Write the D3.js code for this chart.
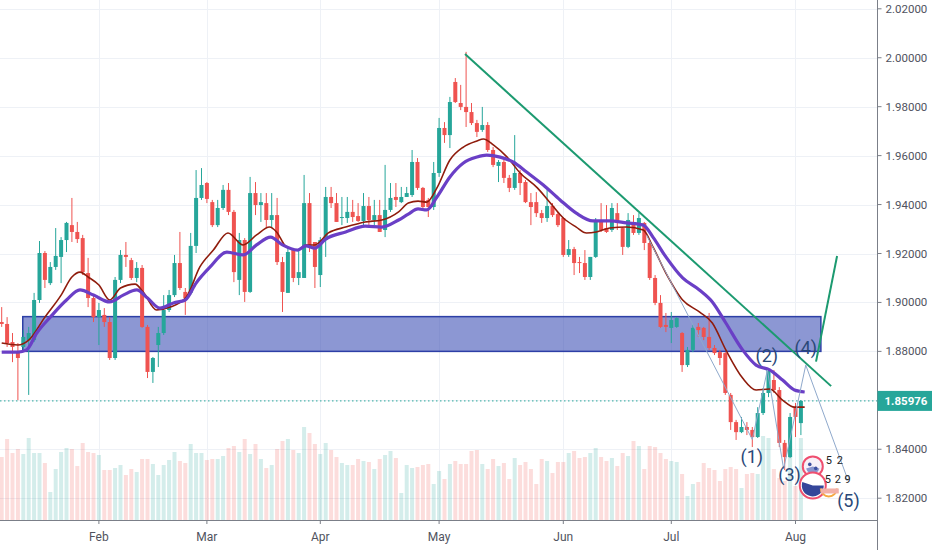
<!DOCTYPE html>
<html>
<head>
<meta charset="utf-8">
<script src="https://cdn.jsdelivr.net/npm/d3@7"></script>
<style>
  body { margin: 0; background: #fff; }
  svg { display: block; font-family: Roboto, "Liberation Sans", sans-serif; }
</style>
</head>
<body>
<svg id="chart" width="932" height="550"></svg>
<script>
// daily bars, index 0 = mid January
const candles = [ // [open, high, low, close]
  [1.8920,1.8981,1.8900,1.8912],[1.8912,1.8940,1.8818,1.8834],[1.8838,1.8875,1.8756,1.8818],[1.8797,1.8834,1.8601,1.8773],
  [1.8818,1.8887,1.8806,1.8859],[1.8846,1.8900,1.8622,1.8875],[1.8846,1.9039,1.8838,1.9010],[1.9010,1.9251,1.8998,1.9202],
  [1.9202,1.9210,1.9059,1.9092],[1.9079,1.9165,1.9071,1.9145],[1.9145,1.9304,1.9133,1.9190],[1.9186,1.9267,1.9079,1.9255],
  [1.9255,1.9329,1.9206,1.9325],[1.9316,1.9427,1.9247,1.9288],[1.9288,1.9329,1.9243,1.9259],[1.9263,1.9276,1.9112,1.9124],
  [1.9120,1.9182,1.8981,1.9018],[1.9018,1.9026,1.8920,1.8940],[1.8940,1.8998,1.8826,1.8969],[1.8949,1.8977,1.8900,1.8920],
  [1.8920,1.8940,1.8765,1.8773],[1.8773,1.9104,1.8765,1.9092],[1.9092,1.9214,1.9079,1.9194],[1.9194,1.9247,1.9145,1.9186],
  [1.9173,1.9182,1.9092,1.9100],[1.9100,1.9165,1.9083,1.9141],[1.9141,1.9153,1.8896,1.8900],[1.8900,1.8908,1.8691,1.8716],
  [1.8716,1.8777,1.8671,1.8773],[1.8826,1.8900,1.8736,1.8875],[1.8875,1.9030,1.8867,1.8969],[1.8969,1.9051,1.8961,1.9030],
  [1.9030,1.9194,1.9022,1.9161],[1.9161,1.9288,1.9051,1.9059],[1.9043,1.9059,1.8949,1.9018],[1.9039,1.9284,1.9030,1.9231],
  [1.9231,1.9541,1.9202,1.9427],[1.9427,1.9549,1.9419,1.9480],[1.9488,1.9492,1.9406,1.9423],[1.9410,1.9419,1.9308,1.9316],
  [1.9316,1.9419,1.9308,1.9386],[1.9386,1.9480,1.9378,1.9460],[1.9460,1.9488,1.9357,1.9370],[1.9370,1.9378,1.9083,1.9124],
  [1.9092,1.9284,1.9030,1.9255],[1.9255,1.9263,1.9002,1.9043],[1.9043,1.9513,1.9039,1.9447],[1.9447,1.9492,1.9357,1.9398],
  [1.9398,1.9447,1.9329,1.9410],[1.9406,1.9447,1.9304,1.9337],[1.9337,1.9447,1.9304,1.9357],[1.9357,1.9427,1.9153,1.9165],
  [1.9165,1.9186,1.8961,1.9043],[1.9039,1.9227,1.9039,1.9206],[1.9214,1.9222,1.9083,1.9100],[1.9100,1.9214,1.9071,1.9124],
  [1.9100,1.9521,1.9100,1.9406],[1.9406,1.9447,1.9206,1.9227],[1.9247,1.9247,1.9059,1.9145],[1.9112,1.9267,1.9063,1.9255],
  [1.9255,1.9472,1.9186,1.9431],[1.9431,1.9472,1.9386,1.9406],[1.9406,1.9447,1.9329,1.9329],[1.9345,1.9431,1.9316,1.9349],
  [1.9345,1.9431,1.9325,1.9370],[1.9370,1.9419,1.9329,1.9349],[1.9353,1.9406,1.9329,1.9333],[1.9333,1.9447,1.9316,1.9394],
  [1.9394,1.9431,1.9316,1.9337],[1.9337,1.9419,1.9316,1.9357],[1.9357,1.9419,1.9288,1.9288],[1.9296,1.9562,1.9267,1.9378],
  [1.9378,1.9488,1.9370,1.9427],[1.9431,1.9488,1.9390,1.9419],[1.9410,1.9472,1.9406,1.9431],[1.9431,1.9472,1.9431,1.9447],
  [1.9439,1.9623,1.9431,1.9574],[1.9574,1.9590,1.9460,1.9468],[1.9468,1.9472,1.9378,1.9390],[1.9419,1.9427,1.9349,1.9390],
  [1.9390,1.9574,1.9378,1.9529],[1.9529,1.9754,1.9513,1.9713],[1.9713,1.9737,1.9652,1.9684],[1.9684,1.9840,1.9631,1.9819],
  [1.9901,1.9917,1.9815,1.9819],[1.9815,1.9889,1.9786,1.9799],[1.9799,2.0024,1.9717,1.9778],[1.9778,1.9815,1.9725,1.9733],
  [1.9733,1.9746,1.9676,1.9697],[1.9705,1.9799,1.9697,1.9725],[1.9725,1.9737,1.9615,1.9623],[1.9623,1.9635,1.9553,1.9562],
  [1.9558,1.9582,1.9492,1.9574],[1.9574,1.9582,1.9488,1.9509],[1.9509,1.9521,1.9451,1.9468],[1.9468,1.9684,1.9460,1.9529],
  [1.9529,1.9541,1.9439,1.9488],[1.9492,1.9500,1.9406,1.9410],[1.9410,1.9447,1.9316,1.9390],[1.9410,1.9451,1.9349,1.9365],
  [1.9365,1.9378,1.9325,1.9345],[1.9345,1.9460,1.9329,1.9394],[1.9394,1.9406,1.9349,1.9357],[1.9361,1.9370,1.9308,1.9316],
  [1.9345,1.9349,1.9186,1.9194],[1.9194,1.9255,1.9186,1.9218],[1.9218,1.9227,1.9112,1.9161],[1.9165,1.9186,1.9120,1.9161],
  [1.9161,1.9214,1.9092,1.9104],[1.9104,1.9186,1.9092,1.9186],[1.9186,1.9345,1.9182,1.9329],[1.9329,1.9406,1.9288,1.9296],
  [1.9304,1.9398,1.9284,1.9288],[1.9296,1.9406,1.9288,1.9386],[1.9365,1.9406,1.9296,1.9325],[1.9304,1.9308,1.9194,1.9227],
  [1.9227,1.9365,1.9222,1.9337],[1.9325,1.9357,1.9276,1.9284],[1.9284,1.9365,1.9276,1.9345],[1.9325,1.9329,1.9214,1.9243],
  [1.9243,1.9255,1.9092,1.9100],[1.9100,1.9112,1.8989,1.8998],[1.8998,1.9030,1.8896,1.8900],[1.8908,1.8957,1.8879,1.8900],
  [1.8896,1.8961,1.8834,1.8928],[1.8900,1.8940,1.8896,1.8936],[1.8875,1.8879,1.8716,1.8744],[1.8744,1.8818,1.8736,1.8806],
  [1.8806,1.8908,1.8797,1.8896],[1.8900,1.8916,1.8859,1.8887],[1.8896,1.8900,1.8846,1.8859],[1.8859,1.8957,1.8806,1.8814],
  [1.8814,1.8826,1.8785,1.8793],[1.8797,1.8806,1.8744,1.8773],[1.8793,1.8797,1.8622,1.8630],[1.8622,1.8630,1.8479,1.8511],
  [1.8511,1.8520,1.8438,1.8470],[1.8470,1.8532,1.8466,1.8491],[1.8491,1.8511,1.8458,1.8479],[1.8479,1.8491,1.8409,1.8450],
  [1.8450,1.8572,1.8446,1.8548],[1.8548,1.8650,1.8540,1.8630],[1.8630,1.8732,1.8613,1.8724],[1.8683,1.8724,1.8630,1.8642],
  [1.8642,1.8654,1.8409,1.8426],[1.8426,1.8438,1.8315,1.8368],[1.8368,1.8548,1.8364,1.8532],[1.8572,1.8589,1.8450,1.8532],
  [1.8507,1.8601,1.8458,1.85976]
];

const volumes = [
  63,81,67,71,66,82,67,67,57,28,51,68,72,71,54,77,68,67,65,50,
  50,52,55,45,51,48,61,61,56,45,55,60,68,59,57,76,67,67,60,61,
  61,64,72,74,68,81,66,76,61,52,55,71,79,81,70,67,93,87,76,66,
  77,70,63,57,55,55,61,59,58,51,61,65,69,62,27,55,52,53,55,56,
  36,49,41,56,59,56,56,69,70,56,51,61,54,57,41,62,55,58,51,36,
  61,59,47,58,58,67,69,62,63,67,72,63,59,62,54,67,64,79,74,51,
  74,73,67,61,59,58,46,24,36,38,57,52,50,39,51,53,51,32,46,47,
  46,84,82,51,42,39,74,34,82
];

// moving averages: [bar, price]
const fastMa = [
  [0,1.8834],[3,1.8826],[5,1.8846],[8,1.8940],[11,1.9030],[13,1.9104],[14.5,1.9124],[16,1.9104],
  [18,1.9071],[20,1.9010],[22,1.9059],[24.7,1.9075],[26.2,1.9043],[28.7,1.8969],[31.2,1.8981],[34.2,1.9022],
  [36.7,1.9145],[39.2,1.9214],[41.9,1.9284],[44.7,1.9235],[47.2,1.9276],[49.6,1.9308],[50.9,1.9288],[52.7,1.9227],
  [54.8,1.9214],[56.3,1.9235],[58,1.9235],[60.5,1.9284],[63.7,1.9308],[67.3,1.9329],[70.4,1.9337],[73.5,1.9370],
  [75.3,1.9406],[77.1,1.9414],[78.7,1.9410],[80.6,1.9468],[83,1.9582],[85.5,1.9635],[88,1.9660],[89.2,1.9668],
  [91.1,1.9643],[93.6,1.9594],[96,1.9529],[99.2,1.9468],[101.6,1.9406],[104,1.9345],[106.4,1.9308],[108.3,1.9284],
  [110.1,1.9288],[112.6,1.9304],[115.7,1.9308],[118.8,1.9296],[120.6,1.9227],[123,1.9120],[126.1,1.9010],[129.2,1.8961],
  [131.6,1.8916],[134.1,1.8806],[137.2,1.8691],[139.7,1.8642],[142.2,1.8646],[144.6,1.8601],[146.8,1.8572],[148.7,1.8572]
];
const slowMa = [
  [0,1.8797],[3,1.8797],[4.6,1.8806],[6.5,1.8875],[9,1.8940],[12,1.9010],[14.5,1.9051],[17,1.9030],
  [20,1.9002],[22.5,1.9030],[25,1.9051],[27,1.9018],[29.3,1.8977],[31.8,1.8998],[34,1.9010],[36,1.9079],
  [38.6,1.9145],[41.7,1.9206],[44.7,1.9194],[47.2,1.9235],[49.8,1.9267],[52,1.9235],[54.8,1.9214],[56.3,1.9231],
  [58,1.9222],[60,1.9259],[63.7,1.9288],[67.3,1.9312],[70.4,1.9308],[73.5,1.9337],[75.3,1.9361],[77.1,1.9382],
  [78.7,1.9378],[80.6,1.9431],[83,1.9513],[85.5,1.9570],[88,1.9594],[89.8,1.9602],[92.3,1.9594],[94.7,1.9574],
  [97.2,1.9533],[100.3,1.9480],[103.4,1.9419],[106.4,1.9365],[109.5,1.9333],[112.6,1.9333],[115.7,1.9325],[118.8,1.9316],
  [120.6,1.9267],[123,1.9186],[126.1,1.9100],[129.2,1.9051],[131.6,1.9002],[134.1,1.8916],[137.2,1.8806],[139.7,1.8744],
  [142.2,1.8724],[144.6,1.8683],[146.8,1.8642],[148.7,1.8634]
];

const priceTicks = [1.82, 1.84, 1.86, 1.88, 1.90, 1.92, 1.94, 1.96, 1.98, 2.00, 2.02];
const monthLabels = ["Feb", "Mar", "Apr", "May", "Jun", "Jul", "Aug"];
const monthBars = [18, 38, 59, 81, 104, 124, 147];
const lastPrice = 1.85976;

// drawings
const zoneBars = [3.9, 151.7];
const zonePrices = [1.8800, 1.8942];
const trendLine = [[85.8, 2.0015], [153.6, 1.8658]];
const breakoutLine = [[150.8, 1.8758], [154.7, 1.9190]];
const wavePoints = [[119.4, 1.9276], [139, 1.8440], [141.8, 1.8724], [144.8, 1.8320], [148.9, 1.8744], [156.6, 1.8281]];
const waveLabels = ["(1)", "(2)", "(3)", "(4)", "(5)"];
const waveLabelAt = [[138.9, 1.8372], [141.7, 1.8783], [145.9, 1.8295], [148.9, 1.8815], [156.8, 1.8192]];
const iconAt = [[150.2, 1.8330], [150.2, 1.8252]];

const plotRight = 877.5, baseY = 520;
const x = d3.scaleLinear([0, 148], [1.7, 800.9]);
const y = d3.scaleLinear([1.82, 2.02], [498.2, 8.8]);
const yVol = d3.scaleLinear([0, 100], [baseY, baseY - 100]);

const up = "#26a69a", down = "#ef5350";
const svg = d3.select("#chart");

// grid
svg.append("g").selectAll("line").data(priceTicks).join("line")
  .attr("x1", 0).attr("x2", plotRight)
  .attr("y1", d => Math.round(y(d)) + 0.5).attr("y2", d => Math.round(y(d)) + 0.5)
  .attr("stroke", "#eef1f6");
svg.append("g").selectAll("line").data(monthBars).join("line")
  .attr("x1", d => Math.round(x(d)) + 0.5).attr("x2", d => Math.round(x(d)) + 0.5)
  .attr("y1", 0).attr("y2", baseY)
  .attr("stroke", "#eef1f6");

// volume
svg.append("g").selectAll("rect").data(volumes).join("rect")
  .attr("x", (d, i) => x(i) - 2).attr("width", 4)
  .attr("y", d => yVol(d)).attr("height", d => baseY - yVol(d))
  .attr("fill", (d, i) => candles[i][3] >= candles[i][0] ? "rgba(38,166,154,0.2)" : "rgba(239,83,80,0.2)");

// support zone
svg.append("rect")
  .attr("x", x(zoneBars[0])).attr("width", x(zoneBars[1]) - x(zoneBars[0]))
  .attr("y", y(zonePrices[1])).attr("height", y(zonePrices[0]) - y(zonePrices[1]))
  .attr("fill", "rgba(63,81,181,0.6)")
  .attr("stroke", "#2d3fa6").attr("stroke-width", 1.5);

// last price line
svg.append("line")
  .attr("x1", 0).attr("x2", plotRight)
  .attr("y1", y(lastPrice)).attr("y2", y(lastPrice))
  .attr("stroke", up).attr("stroke-dasharray", "1.5,2.5");

// candles
const bars = svg.append("g").selectAll("g").data(candles).join("g")
  .attr("fill", d => d[3] >= d[0] ? up : down)
  .attr("stroke", d => d[3] >= d[0] ? up : down);
bars.append("line")
  .attr("x1", (d, i) => x(i)).attr("x2", (d, i) => x(i))
  .attr("y1", d => y(d[1])).attr("y2", d => y(d[2]))
  .attr("stroke-width", 1);
bars.append("rect")
  .attr("x", (d, i) => x(i) - 2).attr("width", 4)
  .attr("y", d => y(Math.max(d[0], d[3])))
  .attr("height", d => Math.max(1, Math.abs(y(d[0]) - y(d[3]))))
  .attr("stroke", "none");

// moving averages
const maLine = d3.line().x(d => x(d[0])).y(d => y(d[1])).curve(d3.curveMonotoneX);
svg.append("path").datum(fastMa).attr("d", maLine)
  .attr("fill", "none").attr("stroke", "#8f1c0c").attr("stroke-width", 1.6);
svg.append("path").datum(slowMa).attr("d", maLine)
  .attr("fill", "none").attr("stroke", "#6a3fc6").attr("stroke-width", 3.2);

// drawings
const seg = d3.line().x(d => x(d[0])).y(d => y(d[1]));
svg.append("path").datum(wavePoints).attr("d", seg)
  .attr("fill", "none").attr("stroke", "#8fa9cc").attr("stroke-width", 1);
svg.append("circle").datum(wavePoints[wavePoints.length - 1])
  .attr("cx", d => x(d[0])).attr("cy", d => y(d[1])).attr("r", 2)
  .attr("fill", "#fff").attr("stroke", "#8fa9cc");
svg.append("path").datum(trendLine).attr("d", seg)
  .attr("fill", "none").attr("stroke", "#1c9a70").attr("stroke-width", 2);
svg.append("path").datum(breakoutLine).attr("d", seg)
  .attr("fill", "none").attr("stroke", "#1c9a70").attr("stroke-width", 2);

svg.append("g").selectAll("text").data(waveLabels).join("text")
  .attr("x", (d, i) => x(waveLabelAt[i][0])).attr("y", (d, i) => y(waveLabelAt[i][1]))
  .attr("text-anchor", "middle").attr("dominant-baseline", "central")
  .attr("font-size", 18).attr("fill", "#2a4878")
  .text(d => d);

// small event icons near the last bars
const ic = svg.append("g");
const c0 = [x(iconAt[0][0]), y(iconAt[0][1])], c1 = [x(iconAt[1][0]), y(iconAt[1][1])];
ic.append("circle").attr("cx", c0[0]).attr("cy", c0[1]).attr("r", 10)
  .attr("fill", "#f7f0f8").attr("stroke", "#ef4f6f").attr("stroke-width", 2);
ic.append("path").attr("transform", `translate(${c0[0]},${c0[1]})`)
  .attr("d", d3.arc()({ innerRadius: 0, outerRadius: 7, startAngle: Math.PI * 0.6, endAngle: Math.PI * 1.4 }))
  .attr("fill", "#8a96cf");
ic.append("circle").attr("cx", c0[0] - 3).attr("cy", c0[1] - 2).attr("r", 1.8).attr("fill", "#3d4f9f");
ic.append("circle").attr("cx", c0[0] + 3).attr("cy", c0[1] + 2).attr("r", 1.8).attr("fill", "#3d4f9f");
ic.append("text").attr("x", c0[0] + 13).attr("y", c0[1] - 2)
  .attr("font-size", 11).attr("fill", "#222").attr("letter-spacing", 1).text("5 2");
ic.append("circle").attr("cx", c1[0]).attr("cy", c1[1]).attr("r", 13)
  .attr("fill", "#fff").attr("stroke", "#ef4f6f").attr("stroke-width", 2);
ic.append("path").attr("transform", `translate(${c1[0]},${c1[1]})`)
  .attr("d", d3.arc()({ innerRadius: 0, outerRadius: 11, startAngle: Math.PI * 0.5, endAngle: Math.PI * 1.6 }))
  .attr("fill", "#34469a");
ic.append("path").attr("transform", `translate(${c1[0] + 16},${c1[1] + 3})`)
  .attr("d", d3.arc()({ innerRadius: 7, outerRadius: 9, startAngle: Math.PI * 0.5, endAngle: Math.PI * 1.5 }))
  .attr("fill", "#f5a941");
ic.append("rect").attr("x", c1[0] + 8).attr("y", c1[1] + 3).attr("width", 18).attr("height", 5)
  .attr("fill", "#f2b0a8");
ic.append("text").attr("x", c1[0] + 12).attr("y", c1[1] - 2)
  .attr("font-size", 11).attr("fill", "#222").attr("letter-spacing", 0.5).text("5 2 9");

// axes
svg.append("line").attr("x1", 0).attr("x2", plotRight).attr("y1", baseY + 0.5).attr("y2", baseY + 0.5)
  .attr("stroke", "#7b7f88");
svg.append("line").attr("x1", plotRight).attr("x2", plotRight).attr("y1", 0).attr("y2", 550)
  .attr("stroke", "#7b7f88");

const yAxis = svg.append("g").selectAll("g").data(priceTicks).join("g")
  .attr("transform", d => `translate(${plotRight},${y(d)})`);
yAxis.append("line").attr("x2", 4).attr("stroke", "#7b7f88");
yAxis.append("text").attr("x", 8).attr("dominant-baseline", "central")
  .attr("font-size", 11.5).attr("fill", "#50535e")
  .text(d => d.toFixed(5));

const xAxis = svg.append("g").selectAll("g").data(monthBars).join("g")
  .attr("transform", d => `translate(${x(d)},${baseY})`);
xAxis.append("line").attr("y2", 4).attr("stroke", "#7b7f88");
xAxis.append("text").attr("y", 21).attr("text-anchor", "middle")
  .attr("font-size", 12).attr("fill", "#50535e")
  .text((d, i) => monthLabels[i]);

// last price tag
svg.append("rect").attr("x", plotRight).attr("width", 932 - plotRight)
  .attr("y", y(lastPrice) - 10).attr("height", 20).attr("fill", up);
svg.append("text").attr("x", plotRight + 7).attr("y", y(lastPrice))
  .attr("dominant-baseline", "central").attr("font-size", 11.5)
  .attr("font-weight", "bold").attr("fill", "#fff")
  .text(lastPrice.toFixed(5));
</script>
</body>
</html>
